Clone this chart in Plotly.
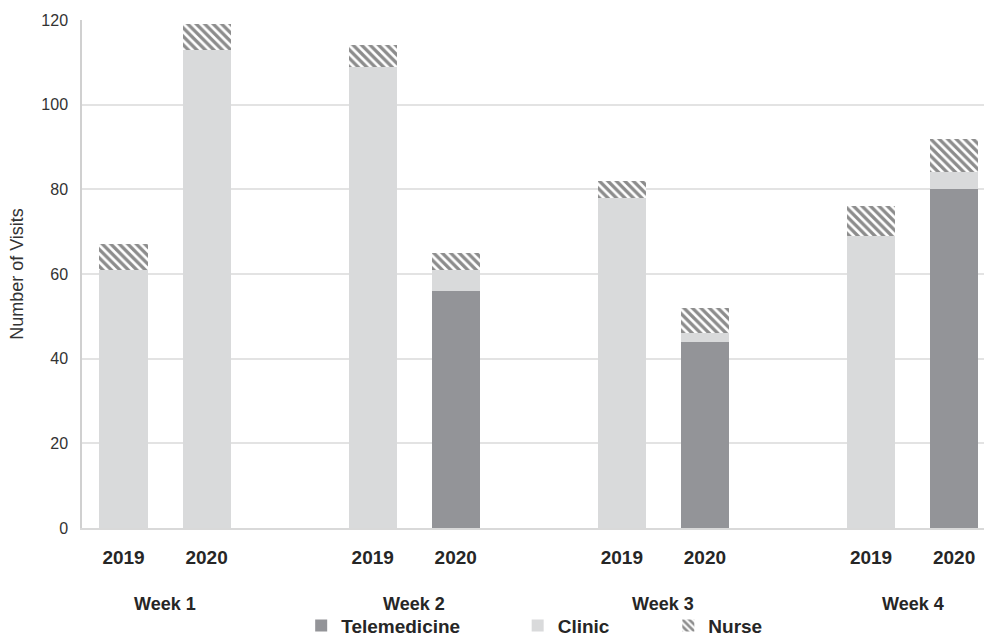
import plotly.graph_objects as go

weeks = ["Week 1", "Week 2", "Week 3", "Week 4"]
years = ["2019", "2020"]
# values ordered: W1-2019, W1-2020, W2-2019, W2-2020, ...
telemedicine = [0, 0, 0, 56, 0, 44, 0, 80]
clinic = [61, 113, 109, 5, 78, 2, 69, 4]
nurse = [6, 6, 5, 4, 4, 6, 7, 8]

FONT = "Liberation Sans, Arial, sans-serif"
SLOTS_PER_WEEK = 3  # two years plus one empty gap slot

xpos = [w * SLOTS_PER_WEEK + y for w in range(len(weeks)) for y in range(len(years))]
xlab = [years[y] for w in range(len(weeks)) for y in range(len(years))]

fig = go.Figure()
fig.add_trace(go.Bar(
    x=xpos, y=telemedicine, name="Telemedicine", width=0.58,
    marker=dict(color="#939498", line=dict(width=0)), legend="legend",
))
fig.add_trace(go.Bar(
    x=xpos, y=clinic, name="Clinic", width=0.58,
    marker=dict(color="#d9dadb", line=dict(width=0)), legend="legend2",
))
fig.add_trace(go.Bar(
    x=xpos, y=nurse, name="Nurse", width=0.58,
    marker=dict(color="white", line=dict(width=0),
                pattern=dict(shape="\\", fgcolor="#1a1a1a", bgcolor="white",
                             size=6, solidity=0.55)),
    legend="legend3",
))

for i, wk in enumerate(weeks):
    fig.add_annotation(
        x=i * SLOTS_PER_WEEK + 0.5, xref="x", y=-0.15, yref="paper",
        text=wk, showarrow=False, yanchor="middle",
        font=dict(family=FONT, size=18, color="#262626", weight="bold"),
    )

leg_common = dict(orientation="h", yanchor="middle", y=-0.192, xanchor="left",
                  font=dict(family=FONT, size=19, color="#262626", weight="bold"),
                  bgcolor="rgba(0,0,0,0)", itemwidth=30, tracegroupgap=0)

fig.update_layout(
    width=984, height=637,
    barmode="stack",
    bargap=0,
    plot_bgcolor="white", paper_bgcolor="white",
    margin=dict(l=82, r=0, t=20, b=109, autoexpand=False),
    font=dict(family=FONT, color="#333333"),
    showlegend=True,
    legend=dict(x=0.243, **leg_common),
    legend2=dict(x=0.483, **leg_common),
    legend3=dict(x=0.650, **leg_common),
    xaxis=dict(
        range=[-0.5, 10.36],
        tickmode="array", tickvals=xpos, ticktext=xlab,
        tickfont=dict(family=FONT, size=19, color="#262626", weight="bold"),
        showgrid=False, zeroline=False,
        showline=True, linecolor="#d9d9d9", linewidth=2,
        ticks="", ticklabelstandoff=11, automargin=False,
    ),
    yaxis=dict(
        range=[0, 120], dtick=20,
        tickfont=dict(family=FONT, size=16, color="#333333"),
        showgrid=True, gridcolor="#e3e3e3", gridwidth=1.5,
        zeroline=False,
        showline=True, linecolor="#d0d0d0", linewidth=1.5,
        ticks="", ticklabelstandoff=9, automargin=False,
        title=dict(text="Number of Visits", font=dict(family=FONT, size=18, color="#333333"),
                   standoff=13),
    ),
)

fig.write_html(
    "out.html",
    config={"displayModeBar": False},
    post_script="document.body.style.margin='0';document.body.style.overflow='hidden';",
)
